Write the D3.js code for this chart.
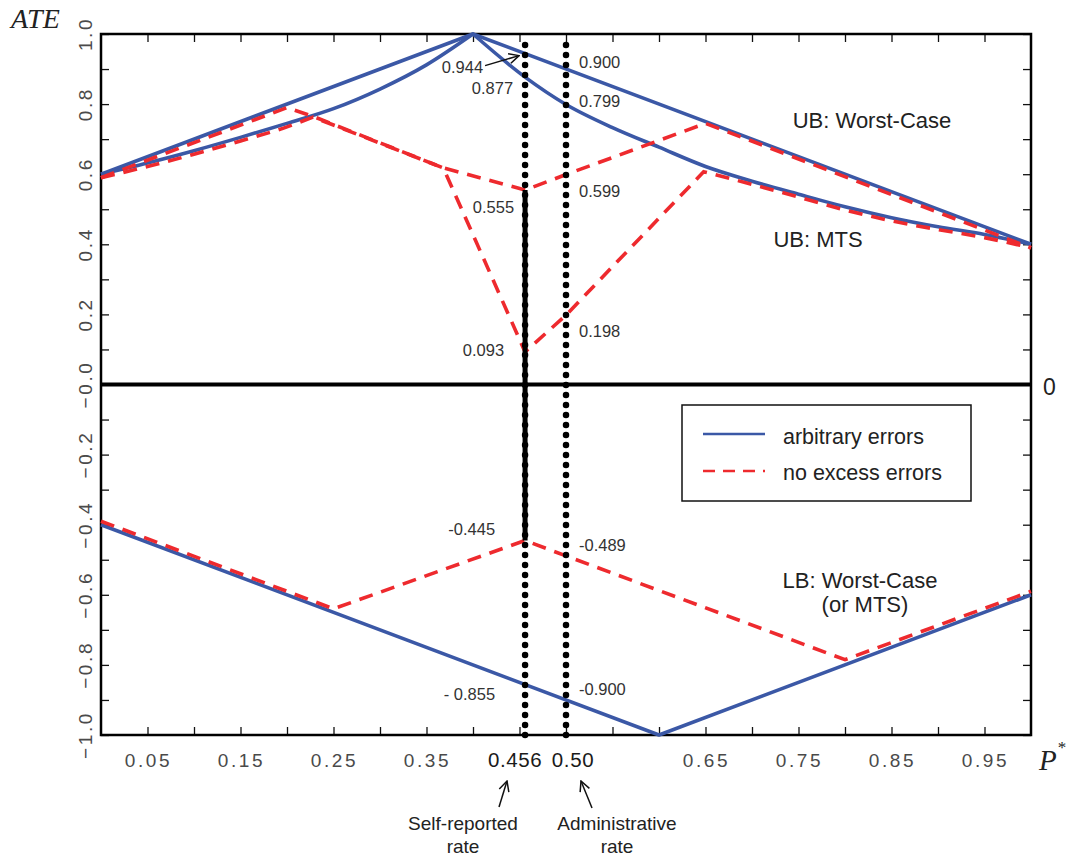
<!DOCTYPE html>
<html>
<head>
<meta charset="utf-8">
<script src="https://cdn.jsdelivr.net/npm/d3@7"></script>
<style>
  html, body { margin: 0; padding: 0; background: #fff; }
  svg { display: block; }
</style>
</head>
<body>
<svg id="chart" width="1068" height="858"></svg>
<script>
// ---------------- DATA ----------------
// UB worst-case, arbitrary errors
const ubWorstArb = [[0, 0.6], [0.4, 1.0], [1, 0.4]];
// UB MTS, arbitrary errors
const ubMtsArb = [[0, 0.6], [0.05, 0.632], [0.1, 0.667], [0.15, 0.705], [0.2, 0.745], [0.25, 0.787],
  [0.3, 0.843], [0.35, 0.912], [0.4, 1.0], [0.456, 0.877], [0.5, 0.799], [0.55, 0.733], [0.6, 0.677],
  [0.65, 0.622], [0.7, 0.58], [0.75, 0.543], [0.8, 0.507], [0.85, 0.476], [0.9, 0.45], [0.95, 0.428], [1, 0.4]];
const ubMtsArbKinks = [0.4];
// UB worst-case, no excess errors
const ubWorstNee = [[0, 0.59], [0.2, 0.79], [0.228, 0.765], [0.368, 0.618], [0.456, 0.555], [0.5, 0.599],
  [0.65, 0.745], [1, 0.39]];
// UB MTS, no excess errors
const ubMtsNee = [[0, 0.59], [0.05, 0.622], [0.1, 0.657], [0.15, 0.695], [0.2, 0.735], [0.228, 0.763],
  [0.368, 0.618], [0.456, 0.093], [0.5, 0.198], [0.648, 0.607], [0.7, 0.571], [0.75, 0.535], [0.8, 0.498],
  [0.85, 0.467], [0.9, 0.442], [0.95, 0.419], [1, 0.39]];
const ubMtsNeeKinks = [0.228, 0.368, 0.456, 0.5, 0.648];
// LB worst-case (or MTS), arbitrary errors
const lbArb = [[0, -0.4], [0.6, -1.0], [1, -0.6]];
// LB worst-case (or MTS), no excess errors
const lbNee = [[0, -0.39], [0.25, -0.64], [0.456, -0.445], [0.5, -0.489], [0.8, -0.785], [1, -0.59]];

// identified set at the self-reported rate
const identifiedSet = [0.555, -0.445];
const rates = [0.456, 0.50];
const rateLabels = ["0.456", "0.50"];
const rateNames = [["Self-reported", "rate"], ["Administrative", "rate"]];

const xTickValues = d3.range(1, 20).map(i => i * 0.05);
const xLabelValues = [0.05, 0.15, 0.25, 0.35, 0.65, 0.75, 0.85, 0.95];
const xLabels = ["0.05", "0.15", "0.25", "0.35", "0.65", "0.75", "0.85", "0.95"];
const yTickValues = d3.range(-10, 11).map(i => i / 10);
const yLabelValues = [1.0, 0.8, 0.6, 0.4, 0.2, 0.0, -0.2, -0.4, -0.6, -0.8, -1.0];
const yLabels = ["1.0", "0.8", "0.6", "0.4", "0.2", "\u22120.0", "\u22120.2", "\u22120.4", "\u22120.6", "\u22120.8", "\u22121.0"];

// value annotations: [rate, value, text]
const leftValues = [[0.456, 0.877, "0.877"], [0.456, 0.555, "0.555"], [0.456, 0.093, "0.093"],
  [0.456, -0.445, "-0.445"], [0.456, -0.855, "- 0.855"]];
const rightValues = [[0.5, 0.9, "0.900"], [0.5, 0.799, "0.799"], [0.5, 0.599, "0.599"], [0.5, 0.198, "0.198"],
  [0.5, -0.489, "-0.489"], [0.5, -0.9, "-0.900"]];

// ---------------- LAYOUT ----------------
const W = 1068, H = 858;
const mLeft = 101, mRight = 1031, mTop = 34, mBottom = 735;
const BLUE = "#3b58a6", RED = "#ee2a2e";

const svg = d3.select("#chart");
svg.append("rect").attr("width", W).attr("height", H).attr("fill", "#fff");

const x = d3.scaleLinear().domain([0, 1]).range([mLeft, mRight]);
const y = d3.scaleLinear().domain([-1, 1]).range([mBottom, mTop]);

// ---------------- AXES (ticks inward) ----------------
const tickLen = 8;
const axStyle = g => {
  g.select(".domain").remove();
  g.selectAll(".tick line").attr("stroke", "#111").attr("stroke-width", 1.3);
  g.selectAll(".tick text").remove();
};
svg.append("g").attr("transform", `translate(0,${mBottom})`)
  .call(d3.axisBottom(x).tickValues(xTickValues).tickSize(-tickLen)).call(axStyle);
svg.append("g").attr("transform", `translate(0,${mTop})`)
  .call(d3.axisTop(x).tickValues(xTickValues).tickSize(-tickLen)).call(axStyle);
svg.append("g").attr("transform", `translate(${mLeft},0)`)
  .call(d3.axisLeft(y).tickValues(yTickValues).tickSize(-tickLen)).call(axStyle);
svg.append("g").attr("transform", `translate(${mRight},0)`)
  .call(d3.axisRight(y).tickValues(yTickValues).tickSize(-tickLen)).call(axStyle);

// frame
svg.append("rect").attr("x", mLeft).attr("y", mTop).attr("width", mRight - mLeft).attr("height", mBottom - mTop)
  .attr("fill", "none").attr("stroke", "#000").attr("stroke-width", 2.5);

// x tick labels
svg.append("g").selectAll("text").data(xLabelValues).join("text")
  .attr("x", d => x(d) + 1).attr("y", 767)
  .attr("text-anchor", "middle")
  .attr("font-family", "Liberation Sans, Arial, sans-serif").attr("font-size", 19)
  .attr("letter-spacing", "2.6px").attr("fill", "#4a4a4a")
  .text((d, i) => xLabels[i]);

// y tick labels (rotated)
svg.append("g").selectAll("text").data(yLabelValues).join("text")
  .attr("transform", d => `translate(92,${y(d)}) rotate(-90)`)
  .attr("text-anchor", "middle")
  .attr("font-family", "Liberation Sans, Arial, sans-serif").attr("font-size", 19)
  .attr("letter-spacing", "2.6px").attr("fill", "#4a4a4a")
  .text((d, i) => yLabels[i]);

// axis titles
svg.append("text").attr("x", 11).attr("y", 28)
  .attr("font-family", "Liberation Serif, Times New Roman, serif").attr("font-style", "italic")
  .attr("font-size", 28).attr("fill", "#222").text("ATE");
const pt = svg.append("text").attr("x", 1039).attr("y", 770)
  .attr("font-family", "Liberation Serif, Times New Roman, serif").attr("font-style", "italic")
  .attr("font-size", 29).attr("fill", "#222");
pt.append("tspan").text("P");
pt.append("tspan").attr("font-size", 17).attr("font-style", "normal").attr("dy", -17).attr("dx", 1).text("*");

// zero line
svg.append("line").attr("x1", mLeft).attr("x2", mRight).attr("y1", y(0)).attr("y2", y(0))
  .attr("stroke", "#000").attr("stroke-width", 4);
svg.append("text").attr("x", 1043).attr("y", 395)
  .attr("font-family", "Liberation Sans, Arial, sans-serif").attr("font-size", 23).attr("fill", "#222").text("0");

// ---------------- LINES ----------------
const smooth = d3.line().x(d => x(d[0])).y(d => y(d[1])).curve(d3.curveMonotoneX);
// smooth pieces between kinks, joined into one continuous path
function piecewisePath(data, kinks) {
  const cuts = [data[0][0], ...kinks, data[data.length - 1][0]];
  let d = "";
  for (let i = 0; i < cuts.length - 1; i++) {
    const seg = data.filter(p => p[0] >= cuts[i] - 1e-9 && p[0] <= cuts[i + 1] + 1e-9);
    const s = smooth(seg);
    d += i === 0 ? s : "L" + s.slice(1);
  }
  return d;
}
const allKinks = data => data.slice(1, -1).map(p => p[0]);
const drawSolid = (data, kinks) => svg.append("path").attr("d", piecewisePath(data, kinks))
  .attr("fill", "none").attr("stroke", BLUE).attr("stroke-width", 3.6).attr("stroke-linejoin", "round");
const drawDash = (data, kinks) => svg.append("path").attr("d", piecewisePath(data, kinks))
  .attr("fill", "none").attr("stroke", RED).attr("stroke-width", 3.6).attr("stroke-dasharray", "14,9");

drawSolid(ubWorstArb, allKinks(ubWorstArb));
drawSolid(ubMtsArb, ubMtsArbKinks);
drawSolid(lbArb, allKinks(lbArb));
drawDash(ubWorstNee, allKinks(ubWorstNee));
drawDash(ubMtsNee, ubMtsNeeKinks);
drawDash(lbNee, allKinks(lbNee));

// dotted vertical lines at the two rates
rates.forEach(r => {
  svg.append("line").attr("x1", x(r)).attr("x2", x(r)).attr("y1", y(-1)).attr("y2", y(0.97))
    .attr("stroke", "#000").attr("stroke-width", 6.5).attr("stroke-linecap", "round")
    .attr("stroke-dasharray", "0,10");
});
// identified set segment
svg.append("line").attr("x1", x(rates[0])).attr("x2", x(rates[0]))
  .attr("y1", y(identifiedSet[0])).attr("y2", y(identifiedSet[1]))
  .attr("stroke", "#000").attr("stroke-width", 5);

// ---------------- ANNOTATIONS ----------------
const annFont = "Liberation Sans, Arial, sans-serif";
const lblOffsets = { "0.877": 17, "0.555": 23, "0.093": 4, "-0.445": -5, "- 0.855": 16,
  "0.900": -1, "0.799": 3, "0.599": 22, "0.198": 22, "-0.489": -5, "-0.900": -5 };
const lblDx = { "0.877": -12, "0.555": -11, "0.093": -21, "-0.445": -30, "- 0.855": -30 };
svg.append("g").selectAll("text").data(leftValues).join("text")
  .attr("x", d => x(d[0]) + lblDx[d[2]]).attr("y", d => y(d[1]) + lblOffsets[d[2]])
  .attr("text-anchor", "end").attr("font-family", annFont).attr("font-size", 16.5).attr("fill", "#333")
  .text(d => d[2]);
svg.append("g").selectAll("text").data(rightValues).join("text")
  .attr("x", d => x(d[0]) + 13).attr("y", d => y(d[1]) + lblOffsets[d[2]])
  .attr("text-anchor", "start").attr("font-family", annFont).attr("font-size", 16.5).attr("fill", "#333")
  .text(d => d[2]);

// 0.944 label with arrow
svg.append("text").attr("x", x(0.456) - 42).attr("y", y(0.944) + 19)
  .attr("text-anchor", "end").attr("font-family", annFont).attr("font-size", 16.5).attr("fill", "#333")
  .text("0.944");
svg.append("defs").append("marker").attr("id", "openArrow").attr("viewBox", "0 0 12 12")
  .attr("refX", 11).attr("refY", 6).attr("markerWidth", 12).attr("markerHeight", 12)
  .attr("markerUnits", "userSpaceOnUse").attr("orient", "auto")
  .append("path").attr("d", "M1,1 L11,6 L1,11").attr("fill", "none").attr("stroke", "#111").attr("stroke-width", 1.5);
svg.append("line").attr("x1", x(0.456) - 40).attr("y1", y(0.944) + 12)
  .attr("x2", x(0.456) - 6).attr("y2", y(0.944) + 2)
  .attr("stroke", "#111").attr("stroke-width", 1.5).attr("marker-end", "url(#openArrow)");

// region labels
const regionLabel = (tx, ty, t) => svg.append("text").attr("x", tx).attr("y", ty).attr("text-anchor", "middle")
  .attr("font-family", annFont).attr("font-size", 22).attr("fill", "#222").text(t);
regionLabel(872, 128, "UB: Worst-Case");
regionLabel(818, 247, "UB: MTS");
regionLabel(860, 588, "LB: Worst-Case");
regionLabel(865, 612, "(or MTS)");

// rate tick labels
svg.append("g").selectAll("text").data(rates).join("text")
  .attr("x", (d, i) => x(d) + (i === 0 ? -10 : 7)).attr("y", 767)
  .attr("text-anchor", "middle").attr("font-family", annFont).attr("font-size", 20.5)
  .attr("fill", "#1a1a1a").attr("letter-spacing", "0.6px")
  .text((d, i) => rateLabels[i]);

// arrows under rate labels
const arrowPts = [[[499, 807], [507, 781]], [[592, 808], [581, 781]]];
arrowPts.forEach(p => {
  svg.append("line").attr("x1", p[0][0]).attr("y1", p[0][1]).attr("x2", p[1][0]).attr("y2", p[1][1])
    .attr("stroke", "#111").attr("stroke-width", 1.5).attr("marker-end", "url(#openArrow)");
});
// rate names
const nameX = [463, 617];
rateNames.forEach((lines, i) => {
  lines.forEach((t, j) => {
    svg.append("text").attr("x", nameX[i]).attr("y", 830 + j * 23).attr("text-anchor", "middle")
      .attr("font-family", annFont).attr("font-size", 19).attr("fill", "#222").text(t);
  });
});

// ---------------- LEGEND ----------------
const lg = svg.append("g");
lg.append("rect").attr("x", 682).attr("y", 405).attr("width", 289).attr("height", 96)
  .attr("fill", "#fff").attr("stroke", "#111").attr("stroke-width", 1.5);
lg.append("line").attr("x1", 703).attr("x2", 765).attr("y1", 434).attr("y2", 434)
  .attr("stroke", BLUE).attr("stroke-width", 2.5);
lg.append("line").attr("x1", 703).attr("x2", 765).attr("y1", 471).attr("y2", 471)
  .attr("stroke", RED).attr("stroke-width", 2.5).attr("stroke-dasharray", "12,8");
lg.append("text").attr("x", 783).attr("y", 444).attr("font-family", annFont).attr("font-size", 21.5)
  .attr("fill", "#222").text("arbitrary errors");
lg.append("text").attr("x", 783).attr("y", 480).attr("font-family", annFont).attr("font-size", 21.5)
  .attr("fill", "#222").text("no excess errors");
</script>
</body>
</html>
